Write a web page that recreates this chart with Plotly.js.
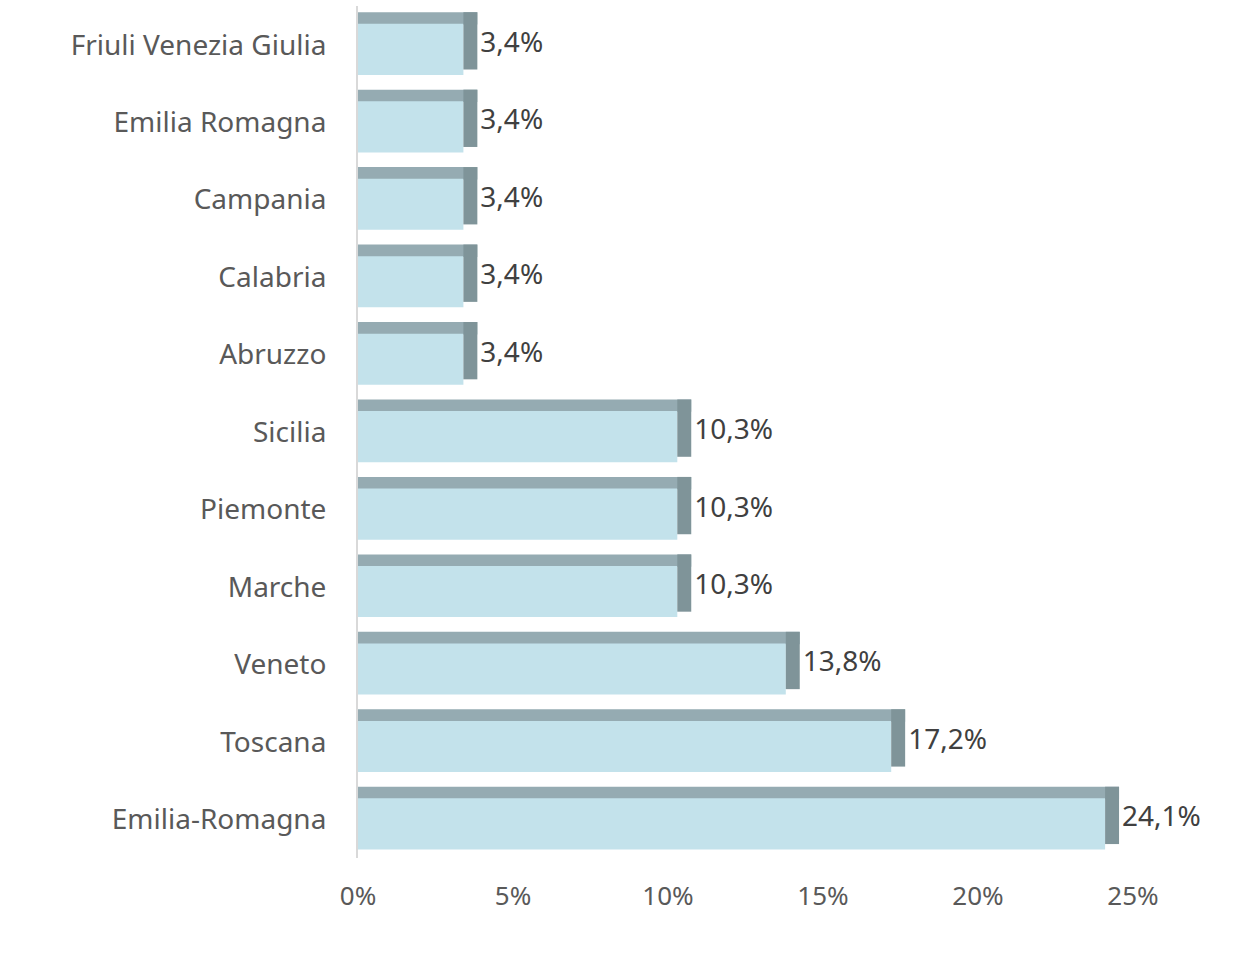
<!DOCTYPE html>
<html>
<head>
<meta charset="utf-8">
<script src="https://cdn.plot.ly/plotly-3.0.1.min.js"></script>
<style>html,body{margin:0;padding:0;background:#fff;}#chart{width:1242px;height:978px;}</style>
</head>
<body>
<div id="chart"></div>
<script>
const regions = ["Friuli Venezia Giulia","Emilia Romagna","Campania","Calabria","Abruzzo","Sicilia","Piemonte","Marche","Veneto","Toscana","Emilia-Romagna"];
const shares = [3.4,3.4,3.4,3.4,3.4,10.3,10.3,10.3,13.8,17.2,24.1];
const tickValues = [0,5,10,15,20,25];
const tickLabels = ["0%","5%","10%","15%","20%","25%"];

const depth = 0.45;
const labels = shares.map(v => v.toFixed(1).replace('.', ',') + '%');
const font = "'Noto Sans', 'Open Sans', sans-serif";

const topFace = {
  type: 'bar', orientation: 'h', y: regions, x: shares.map(v => v + depth),
  base: 0, width: 0.16, offset: -0.42,
  marker: {color: '#95ABB2', line: {width: 0}}, hoverinfo: 'skip'
};
const front = {
  type: 'bar', orientation: 'h', y: regions, x: shares,
  width: 0.66, offset: -0.27,
  marker: {color: '#C3E2EB', line: {width: 0}}
};
const side = {
  type: 'bar', orientation: 'h', y: regions, x: shares.map(() => depth),
  base: shares, width: 0.74, offset: -0.42,
  marker: {color: '#7F9499', line: {width: 0}},
  text: labels, textposition: 'outside', cliponaxis: false,
  textfont: {family: font, size: 28, color: '#404040'}, hoverinfo: 'skip'
};

const layout = {
  width: 1242, height: 978,
  margin: {l: 358, r: 78, t: 6, b: 120},
  paper_bgcolor: '#fff', plot_bgcolor: '#fff',
  barmode: 'overlay', showlegend: false,
  xaxis: {range: [0, 26], tickvals: tickValues, ticktext: tickLabels,
    showgrid: false, zeroline: false, showline: false, ticks: '',
    tickfont: {family: font, size: 26, color: '#595959'}, ticklabelstandoff: 20},
  yaxis: {autorange: 'reversed', showgrid: false, zeroline: false,
    showline: true, linecolor: '#D9D9D9', linewidth: 2, ticks: '',
    tickfont: {family: font, size: 28, color: '#595959'}, ticklabelstandoff: 24}
};
Plotly.newPlot('chart', [topFace, front, side], layout, {displayModeBar: false});
</script>
</body>
</html>
